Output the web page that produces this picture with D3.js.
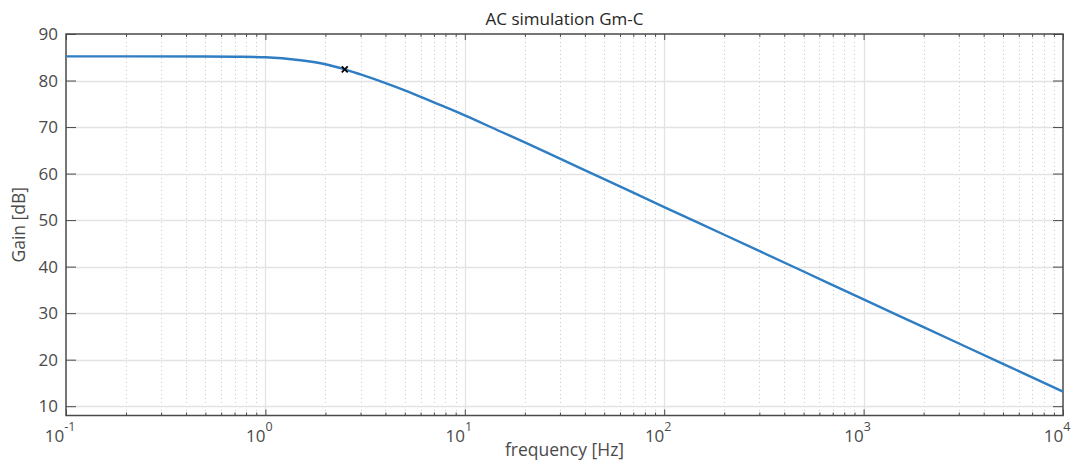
<!DOCTYPE html>
<html>
<head>
<meta charset="utf-8">
<script src="https://cdn.jsdelivr.net/npm/d3@7"></script>
<style>
  html, body { margin: 0; padding: 0; background: #fff; }
  svg { display: block; font-family: "Open Sans", "Noto Sans", sans-serif; }
</style>
</head>
<body>
<svg id="chart" width="1080" height="464"></svg>
<script>
// ---- data ----
const title = "AC simulation Gm-C";
const xLabel = "frequency [Hz]";
const yLabel = "Gain [dB]";
const frequency = [0.1, 0.2, 0.5, 0.7, 1, 1.5, 2, 2.5, 3, 4, 5, 7, 10, 15, 20, 30, 50, 100, 200, 500, 1000, 2000, 5000, 10000];
const gain      = [85.2, 85.2, 85.18, 85.12, 85.0, 84.35, 83.5, 82.4, 81.3, 79.45, 77.9, 75.3, 72.5, 69.1, 66.7, 63.2, 58.8, 52.8, 46.85, 38.95, 32.95, 27.0, 19.1, 13.15];
const markerPoint = [2.5, 82.4];
const xDomain = [0.1, 10000];
const yDomain = [8, 90];
const yTicks = [10, 20, 30, 40, 50, 60, 70, 80, 90];
const xDecades = [-1, 0, 1, 2, 3, 4];

// ---- layout ----
const svg = d3.select("#chart");
const L = 66, R = 1063, T = 34, B = 415.5;
const x = d3.scaleLog().domain(xDomain).range([L, R]);
const y = d3.scaleLinear().domain(yDomain).range([B, T]);
const axisColor = "#4a4a4a";
const textColor = "#4a4a4a";

// minor ticks
const minor = [];
for (let d = -1; d < 4; d++) for (let m = 2; m <= 9; m++) minor.push(m * Math.pow(10, d));
const majors = xDecades.map(e => Math.pow(10, e));

// grids
const g = svg.append("g");
g.selectAll(".mgx").data(minor).enter().append("line")
  .attr("x1", d => Math.round(x(d)) + 0.5).attr("x2", d => Math.round(x(d)) + 0.5)
  .attr("y1", T).attr("y2", B)
  .attr("stroke", "#c8c8c8").attr("stroke-width", 1).attr("stroke-dasharray", "1,3");
g.selectAll(".gx").data(majors.slice(1, -1)).enter().append("line")
  .attr("x1", d => Math.round(x(d)) + 0.5).attr("x2", d => Math.round(x(d)) + 0.5)
  .attr("y1", T).attr("y2", B)
  .attr("stroke", "#e3e3e3").attr("stroke-width", 1.3);
g.selectAll(".gy").data(yTicks.slice(0, -1)).enter().append("line")
  .attr("y1", d => Math.round(y(d)) + 0.5).attr("y2", d => Math.round(y(d)) + 0.5)
  .attr("x1", L).attr("x2", R)
  .attr("stroke", "#e3e3e3").attr("stroke-width", 1.3);

// axes via d3 axis generators (inward ticks)
const fmtNone = () => "";
function addAxis(gen, tx, ty) {
  const a = svg.append("g").attr("transform", `translate(${tx},${ty})`).call(gen);
  a.select(".domain").remove();
  a.selectAll("line").attr("stroke", axisColor).attr("stroke-width", 1);
  a.selectAll("text").remove();
  return a;
}
addAxis(d3.axisBottom(x).tickValues(minor).tickSize(-3).tickFormat(fmtNone), 0, B);
addAxis(d3.axisBottom(x).tickValues(majors).tickSize(-6).tickFormat(fmtNone), 0, B);
addAxis(d3.axisTop(x).tickValues(minor).tickSize(-3).tickFormat(fmtNone), 0, T);
addAxis(d3.axisTop(x).tickValues(majors).tickSize(-6).tickFormat(fmtNone), 0, T);
addAxis(d3.axisLeft(y).tickValues(yTicks).tickSize(-10).tickFormat(fmtNone), L, 0);
addAxis(d3.axisRight(y).tickValues(yTicks).tickSize(-10).tickFormat(fmtNone), R, 0);

// box
svg.append("rect").attr("x", L).attr("y", T).attr("width", R - L).attr("height", B - T)
  .attr("fill", "none").attr("stroke", axisColor).attr("stroke-width", 1.5);

// y tick labels
svg.append("g").selectAll("text").data(yTicks).enter().append("text")
  .attr("x", L - 8).attr("y", d => y(d) + 6)
  .attr("text-anchor", "end").attr("font-size", 17).attr("fill", textColor)
  .text(d => d);

// x tick labels 10^n
const xt = svg.append("g").selectAll("text").data(xDecades).enter().append("text")
  .attr("x", d => x(Math.pow(10, d)) - 6).attr("y", 442)
  .attr("text-anchor", "middle").attr("font-size", 17).attr("fill", textColor);
xt.append("tspan").text("10");
xt.append("tspan").attr("dy", -11).attr("font-size", 12.5).text(d => d);

// title and labels
svg.append("text").attr("x", (L + R) / 2).attr("y", 25).attr("text-anchor", "middle")
  .attr("font-size", 17).attr("fill", "#262626").text(title);
svg.append("text").attr("x", (L + R) / 2).attr("y", 456).attr("text-anchor", "middle")
  .attr("font-size", 17.5).attr("fill", textColor).text(xLabel);
svg.append("text").attr("transform", `translate(25,${(T + B) / 2}) rotate(-90)`)
  .attr("text-anchor", "middle").attr("font-size", 17.5).attr("fill", textColor).text(yLabel);

// line
const data = frequency.map((f, i) => [f, gain[i]]);
const line = d3.line().x(d => x(d[0])).y(d => y(d[1])).curve(d3.curveMonotoneX);
svg.append("path").datum(data).attr("d", line)
  .attr("fill", "none").attr("stroke", "#2f7dc3").attr("stroke-width", 2.4);

// marker x
const mx = x(markerPoint[0]), my = y(markerPoint[1]), s = 3;
svg.append("path")
  .attr("d", `M${mx - s},${my - s}L${mx + s},${my + s}M${mx - s},${my + s}L${mx + s},${my - s}`)
  .attr("stroke", "#000").attr("stroke-width", 1.8).attr("fill", "none");
</script>
</body>
</html>
